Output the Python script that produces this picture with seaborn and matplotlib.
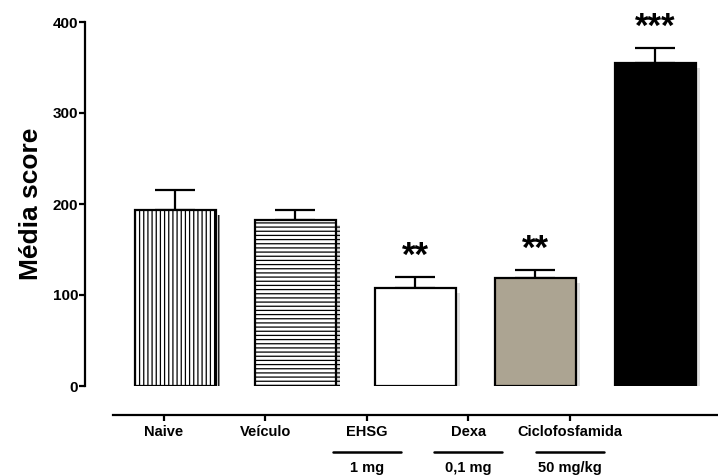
import matplotlib
matplotlib.use("Agg")
import matplotlib.pyplot as plt
import matplotlib.patheffects as pe
from matplotlib.transforms import blended_transform_factory
import seaborn as sns
import pandas as pd
import numpy as np

# ---- data ----
groups = ["Naive", "Veículo", "EHSG", "Dexa", "Ciclofosfamida"]
means = [193, 182, 108, 119, 355]
sem = [22, 11, 12, 8, 16]
stars = ["", "", "**", "**", "***"]
doses = ["", "", "1 mg", "0,1 mg", "50 mg/kg"]
yticks = [0, 100, 200, 300, 400]
ylabel = "Média score"

fills = ["white", "white", "white", "#aca492", "black"]
hatches = ["||||", "----", "", "", ""]

sns.set_theme(style="white")
plt.rcParams["font.family"] = ["Liberation Sans", "DejaVu Sans"]
plt.rcParams["font.weight"] = "bold"
plt.rcParams["hatch.linewidth"] = 0.9
plt.rcParams["hatch.color"] = "black"
for k in ["text.color", "axes.labelcolor", "xtick.color", "ytick.color"]:
    plt.rcParams[k] = "black"

W, H = 718, 476
fig = plt.figure(figsize=(W / 100, H / 100), dpi=100)

# main axes (bars)
left, right, bottom, top = 85, 718, 386, 22
ax = fig.add_axes([left / W, (H - bottom) / H, (right - left) / W, (bottom - top) / H])
df = pd.DataFrame({"group": groups, "mean": means})
sns.barplot(data=df, x="group", y="mean", ax=ax, width=0.675,
            color="white", edgecolor="black", linewidth=1.6, errorbar=None,
            zorder=3)
shadow = [pe.SimplePatchShadow(offset=(3.5, -3.5), shadow_rgbFace="0.6", alpha=0.3), pe.Normal()]
for p, fc, h in zip(ax.patches, fills, hatches):
    p.set_facecolor(fc)
    p.set_hatch(h)
    p.set_path_effects(shadow)

x = np.arange(len(groups))
ax.errorbar(x, means, yerr=[np.zeros(len(sem)), sem], fmt="none", ecolor="black",
            elinewidth=1.6, capsize=14.5, capthick=1.6, zorder=2)

for xi, m, s, st in zip(x, means, sem, stars):
    if st:
        ax.annotate(st, (xi, m + s), xytext=(0, 8), textcoords="offset points",
                    ha="center", va="baseline", fontsize=25, fontweight="bold",
                    annotation_clip=False)

ax.set_xlim(-0.75, 4.525)
ax.set_ylim(0, 400)
ax.set_yticks(yticks)
ax.set_yticklabels([str(t) for t in yticks], fontsize=11, fontweight="bold")
ax.tick_params(axis="y", left=True, length=4, width=1.6, direction="out", pad=1, color="black")
ax.set_xticks([])
ax.set_xlabel("")
ax.set_ylabel(ylabel, fontsize=19, fontweight="bold", labelpad=7)
for s in ["top", "right", "bottom"]:
    ax.spines[s].set_visible(False)
ax.spines["left"].set_linewidth(1.6)
ax.spines["left"].set_color("black")
ax.patch.set_visible(False)

# category axis (separate, like the original)
cl, cr, cy = 113, 718, 415
cax = fig.add_axes([cl / W, (H - cy) / H, (cr - cl) / W, 0.001])
cax.set_xlim(-0.502, 5.46)
cax.set_ylim(0, 1)
cax.set_xticks(x)
cax.set_xticklabels(groups, fontsize=10.5, fontweight="bold")
cax.set_yticks([])
cax.tick_params(axis="x", bottom=True, length=4, width=1.6, direction="out", pad=3, color="black")
for s in ["top", "right", "left"]:
    cax.spines[s].set_visible(False)
cax.spines["bottom"].set_linewidth(1.6)
cax.spines["bottom"].set_color("black")
cax.patch.set_visible(False)

trans = blended_transform_factory(cax.transData, fig.transFigure)
for xi, d in zip(x, doses):
    if d:
        cax.plot([xi - 0.335, xi + 0.335], [(H - 452) / H] * 2, color="black",
                 lw=1.8, transform=trans, clip_on=False)
        cax.text(xi, (H - 468) / H, d, transform=trans, ha="center", va="center",
                 fontsize=10.5, fontweight="bold", clip_on=False)

fig.savefig("out.png", dpi=100)
